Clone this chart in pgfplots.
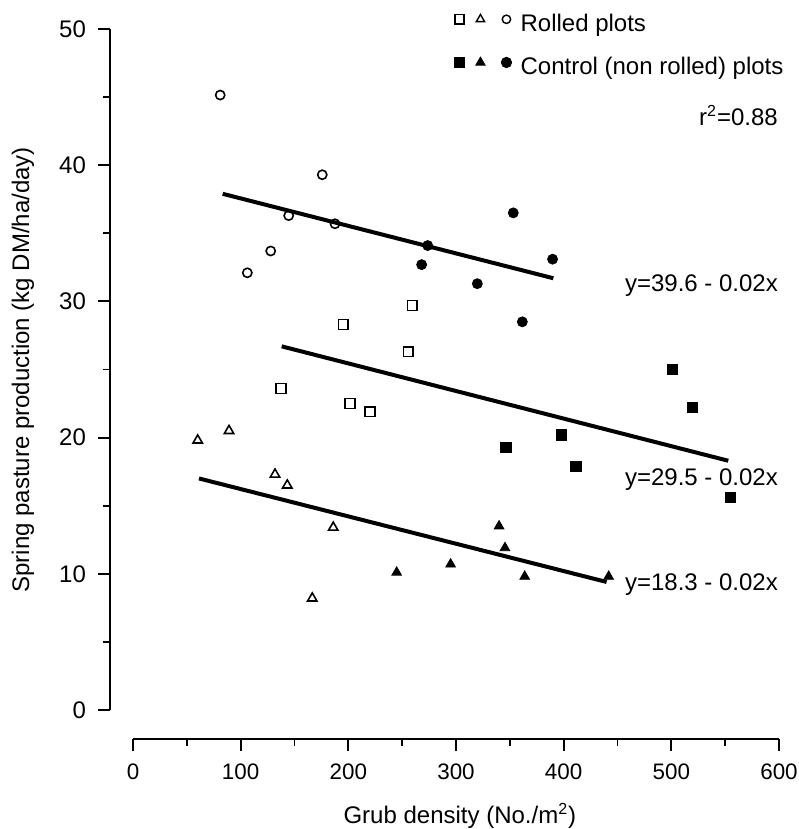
\documentclass[border=0pt]{standalone}
\usepackage{fontspec}
\setmainfont{Liberation Sans}
\usepackage{pgfplots}
\pgfplotsset{compat=1.18}

\begin{document}
\begin{tikzpicture}[font=\fontsize{12}{14.4}\selectfont]
% page frame, in the reference's proportions (1px = 0.5pt)
\useasboundingbox (-55pt,-45pt) rectangle (344pt,369.5pt);
\begin{axis}[
  scale only axis, width=334.5pt, height=355pt,
  xmin=-21.36, xmax=600, ymin=-2.129, ymax=50,
  axis x line=bottom, axis y line=left,
  axis line style={-, line width=1pt},
  x axis line style={shorten <=11.5pt},
  y axis line style={shorten <=14.5pt},
  xtick={0,100,...,600}, ytick={0,10,...,50},
  minor xtick={50,150,...,550}, minor ytick={5,15,...,45},
  tick align=outside,
  major tick length=6pt, minor tick length=3.5pt,
  every tick/.style={black, line width=1pt},
  every minor tick/.style={black, line width=0.9pt},
  /pgf/number format/assume math mode=true,
  xticklabel style={yshift=-3pt, font=\fontsize{11.2}{13.4}\selectfont},
  yticklabel style={xshift=-2.5pt},
  xlabel={Grub density (No./m\textsuperscript{2})},
  ylabel={Spring pasture production (kg DM/ha/day)},
  every axis x label/.style={at={(axis description cs:0.523,0)}, anchor=center, yshift=-38.5pt},
  every axis y label/.style={at={(axis description cs:0,0.52)}, xshift=-43.5pt, anchor=center, rotate=90},
  clip=false,
  legend style={at={(axis cs:298,51.3)}, anchor=north west, draw=none, fill=none,
    inner sep=0pt, row sep=9.5pt, nodes={inner sep=1pt},
    /tikz/every odd column/.append style={column sep=3.5pt}},
  legend cell align=left,
  openmk/.style={only marks, black, line width=0.8pt, fill=white},
  fullmk/.style={only marks, black, line width=0.4pt, fill=black},
]
% regression lines
\addplot[black, line width=2pt, forget plot] coordinates {(83.3,37.9) (390.4,31.7)};
\addplot[black, line width=2pt, forget plot] coordinates {(138.1,26.7) (552.9,18.3)};
\addplot[black, line width=2pt, forget plot] coordinates {(61.3,17.0) (439.9,9.4)};

% rolled plots
\addplot[openmk, mark=square, mark size=2.45pt, forget plot] coordinates {
  (137.5,23.6) (195.3,28.3) (201.5,22.5) (220.1,21.9) (255.7,26.3) (259.4,29.7)};
\addplot[openmk, mark=triangle, mark size=2.7pt, forget plot] coordinates {
  (60.1,19.8) (89.2,20.5) (131.9,17.3) (143.3,16.5) (186.0,13.4) (166.5,8.2)};
\addplot[openmk, mark=o, mark size=2.3pt, forget plot] coordinates {
  (81.0,45.15) (106.2,32.1) (127.9,33.7) (144.6,36.3) (175.8,39.3) (187.6,35.7)};

% control (non rolled) plots
\addplot[fullmk, mark=square*, mark size=2.6pt, forget plot] coordinates {
  (346.4,19.3) (397.8,20.2) (411.5,17.9) (501.2,25.0) (519.5,22.2) (555.1,15.6)};
\addplot[fullmk, mark=triangle*, mark size=2.8pt, forget plot] coordinates {
  (244.9,10.1) (295.0,10.7) (340.0,13.5) (345.5,11.9) (363.8,9.8) (441.8,9.8)};
\addplot[fullmk, mark=*, mark size=2.5pt, forget plot] coordinates {
  (268.1,32.7) (273.7,34.1) (319.8,31.3) (353.2,36.5) (361.6,28.5) (389.7,33.1)};

% legend: three marks per entry
\addlegendimage{legend image code/.code={
  \draw[black, line width=0.7pt, fill=white] plot[only marks, mark=square, mark size=2.3pt] coordinates {(0pt,2.3pt)};
  \draw[black, line width=0.7pt, fill=white] plot[only marks, mark=triangle, mark size=2.4pt] coordinates {(10.5pt,2.3pt)};
  \draw[black, line width=0.7pt, fill=white] plot[only marks, mark=o, mark size=2.1pt] coordinates {(23.5pt,2.3pt)};}}
\addlegendentry{Rolled plots}
\addlegendimage{legend image code/.code={
  \draw[black, fill=black] plot[only marks, mark=square*, mark size=2.6pt] coordinates {(0pt,2.4pt)};
  \draw[black, fill=black] plot[only marks, mark=triangle*, mark size=2.7pt] coordinates {(10.5pt,2.4pt)};
  \draw[black, fill=black] plot[only marks, mark=*, mark size=2.6pt] coordinates {(23.5pt,2.4pt)};}}
\addlegendentry{Control (non rolled) plots}

% fit statistics and equations
\node[anchor=base east, inner sep=0pt] at (axis cs:599.3,42.95) {r\textsuperscript{2}=0.88};
\node[anchor=base east, inner sep=0pt] at (axis cs:599.3,30.7) {y=39.6 - 0.02x};
\node[anchor=base east, inner sep=0pt] at (axis cs:599.3,16.45) {y=29.5 - 0.02x};
\node[anchor=base east, inner sep=0pt] at (axis cs:599.3,8.76) {y=18.3 - 0.02x};
\end{axis}
\end{tikzpicture}
\end{document}
